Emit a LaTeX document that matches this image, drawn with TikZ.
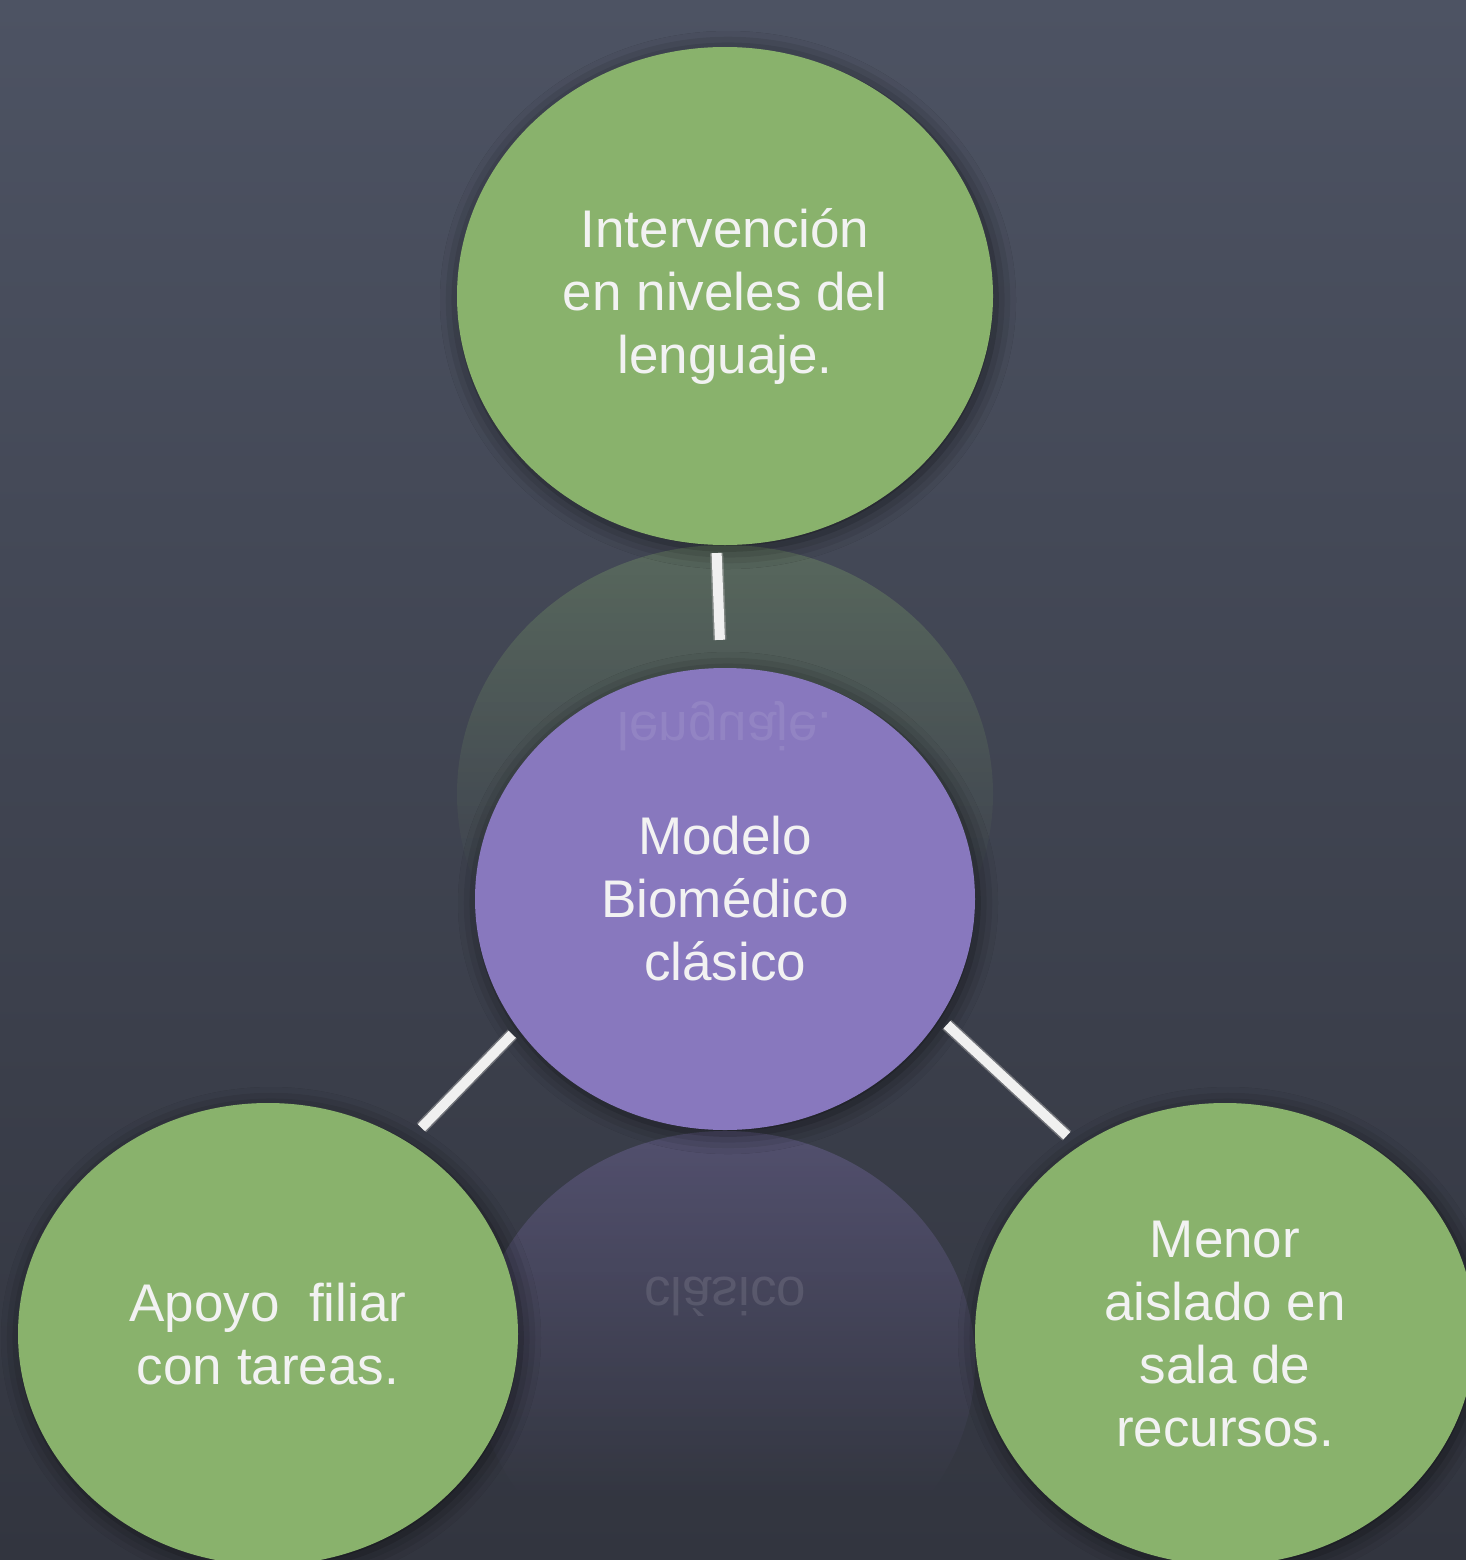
\documentclass[tikz,border=0pt]{standalone}
\usepackage{fontspec}
\setmainfont{Liberation Sans}
\usetikzlibrary{shapes.geometric,shadows.blur,fadings}
\definecolor{boardtop}{HTML}{4D5363}
\definecolor{boardbot}{HTML}{32353F}
\definecolor{leaf}{HTML}{89B26C}
\definecolor{lilac}{HTML}{8878BE}
\begin{document}
\begin{tikzpicture}[x=1pt,y=-1pt,
  bubble/.style={ellipse, inner sep=0pt, align=center, text=white!95!black,
    font={\fontsize{53}{63}\selectfont},
    blur shadow={shadow xshift=3pt, shadow yshift=-4pt, shadow blur radius=20pt, shadow opacity=60, shadow scale=1}},
  mirrortext/.style={yscale=-1, transform shape, anchor=base, text=white,
    font={\fontsize{53}{63}\selectfont}},
  chalk/.style={line width=10pt, draw=white!94!black, line cap=butt,
    preaction={draw=white!70!black, draw opacity=0.45, line width=13pt}}]
\clip (0,0) rectangle (1466,1560);
\shade[top color=boardtop, bottom color=boardbot] (0,0) rectangle (1466,1560);
% reflection of the top bubble
\begin{scope}
  \clip (725,794) ellipse [x radius=268, y radius=249];
  \fill[leaf, fill opacity=0.36, path fading=south] (440,470) rectangle (1010,900);
\end{scope}
% reflection of the middle bubble
\begin{scope}
  \clip (725,1362) ellipse [x radius=250, y radius=231];
  \fill[lilac, fill opacity=0.38, path fading=south] (460,1060) rectangle (990,1500);
\end{scope}
% bubbles
\node[bubble, fill=leaf, minimum width=536pt, minimum height=498pt] (nlang) at (725,296)
  {Intervención\\en niveles del\\lenguaje.};
\node[bubble, fill=lilac, minimum width=500pt, minimum height=462pt] (nmid) at (725,899)
  {Modelo\\Biomédico\\clásico};
\node[bubble, fill=leaf, minimum width=500pt, minimum height=462pt] (napoyo) at (268,1334)
  {Apoyo\ \ filiar\\con tareas.};
\node[bubble, fill=leaf, minimum width=500pt, minimum height=462pt] (nmenor) at (1225,1334)
  {Menor\\aislado en\\sala de\\recursos.};
% mirrored texts of the reflections
\node[mirrortext, text opacity=0.09] (rlang) at (725,712) {lenguaje.};
\node[mirrortext, text opacity=0.11] (rclas) at (725,1277) {clásico};
% chalk connectors
\draw[chalk, shorten <=28pt, shorten >=8pt] (nmid.91.6) -- (nlang.268.5);
\draw[chalk, shorten <=8pt, shorten >=20pt] (nmid.212.7) -- (napoyo.54.3);
\draw[chalk, shorten <=10pt, shorten >=16pt] (nmid.331.7) -- (nmenor.128.4);
\end{tikzpicture}
\end{document}
